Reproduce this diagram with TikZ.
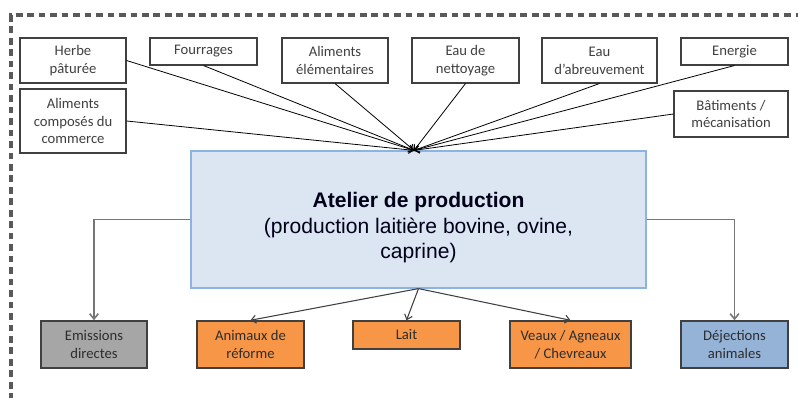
\documentclass[tikz,border=0pt]{standalone}
\usepackage{fontspec}
\setmainfont{Carlito}
\newfontfamily\arialf{Liberation Sans}
\usetikzlibrary{arrows.meta}
\definecolor{mainfill}{HTML}{DCE6F2}
\definecolor{mainline}{HTML}{8DB3E2}
\definecolor{boxline}{HTML}{404040}
\definecolor{txt}{HTML}{404040}
\definecolor{greyfill}{HTML}{A6A6A6}
\definecolor{orangefill}{HTML}{F79646}
\definecolor{bluefill}{HTML}{95B3D7}
\definecolor{framecol}{HTML}{595959}
\definecolor{greyline}{HTML}{767676}
\def\pxu{0.75pt}
\tikzset{
  x=0.75pt, y=-0.75pt,
  inbox/.style={draw=boxline, line width=0.8pt, fill=white, inner sep=1pt, align=center,
    text=txt, font=\fontsize{11}{13.3}\selectfont},
  outbox/.style={draw=boxline, line width=1.1pt, inner sep=1pt, align=center,
    text=txt!70!black, font=\fontsize{11}{13.3}\selectfont},
  mainbox/.style={draw=mainline, line width=0.9pt, fill=mainfill},
  maintext/.style={align=center, text=black!90!blue, font=\arialf\fontsize{15.8}{18.5}\selectfont},
  inarrow/.style={draw=black, line width=0.6pt, -{Straight Barb[length=3.5pt,width=5.5pt]}},
  outarrow/.style={draw=boxline, line width=0.8pt, -{Straight Barb[length=3.5pt,width=6pt]}},
  sidearrow/.style={draw=greyline, line width=1.2pt, -{Straight Barb[length=4pt,width=6.5pt]}},
  frameline/.style={draw=framecol, line width=3pt, dash pattern=on 5pt off 3.6pt}
}
\begin{document}
\begin{tikzpicture}
\useasboundingbox (0,0) rectangle (798,398);
% dashed frame
\draw[frameline] (11,400) -- (11,15) -- (805,15);

% input boxes
\node[inbox, minimum width=106*\pxu, minimum height=45*\pxu] (herbe) at (73,60.5) {Herbe\\pâturée};
\node[inbox, minimum width=107*\pxu, minimum height=27*\pxu] (fourr) at (203.5,51.5) {Fourrages};
\node[inbox, minimum width=106*\pxu, minimum height=45*\pxu] (alim) at (335,60.5) {Aliments\\élémentaires};
\node[inbox, minimum width=107*\pxu, minimum height=45*\pxu] (nett) at (465.5,60.5) {Eau de\\nettoyage};
\node[inbox, minimum width=115*\pxu, minimum height=45*\pxu] (abre) at (599.5,60.5) {Eau\\d'abreuvement};
\node[inbox, minimum width=107*\pxu, minimum height=27*\pxu] (ener) at (734.5,51.5) {Energie};
\node[inbox, minimum width=106*\pxu, minimum height=64*\pxu] (comp) at (73,121) {Aliments\\composés du\\commerce};
\node[inbox, minimum width=114*\pxu, minimum height=46*\pxu] (bati) at (731,114) {Bâtiments /\\mécanisation};

% main box
\node[mainbox, minimum width=455*\pxu, minimum height=137*\pxu,
  label={[maintext, yshift=-8*\pxu]center:{\textbf{Atelier de production}\\[1.5pt](production laitière bovine, ovine,\\caprine)}}]
  (main) at (418.5,219.5) {};
\coordinate (tgt) at ([xshift=-4.5*\pxu]main.north);

% output boxes
\node[outbox, fill=greyfill, minimum width=106*\pxu, minimum height=47*\pxu] (emis) at (94,344.5) {Emissions\\directes};
\node[outbox, fill=orangefill, minimum width=107*\pxu, minimum height=47*\pxu] (anim) at (250.5,344.5) {Animaux de\\réforme};
\node[outbox, fill=orangefill, minimum width=107*\pxu, minimum height=28*\pxu] (lait) at (406.5,335) {Lait};
\node[outbox, fill=orangefill, minimum width=121*\pxu, minimum height=47*\pxu] (veau) at (570.5,344.5) {Veaux / Agneaux\\/ Chevreaux};
\node[outbox, fill=bluefill, minimum width=107*\pxu, minimum height=47*\pxu] (deje) at (734.5,344.5) {Déjections\\animales};

% input connectors
\draw[inarrow] (herbe.east) -- (tgt);
\draw[inarrow] (fourr.south) -- (tgt);
\draw[inarrow] (alim.south) -- (tgt);
\draw[inarrow] (comp.east) -- (tgt);
\draw[inarrow] (nett.south) -- (tgt);
\draw[inarrow] (abre.south) -- (tgt);
\draw[inarrow] (ener.south) -- (tgt);
\draw[inarrow] (bati.west) -- (tgt);

% output connectors
\draw[sidearrow] (main.west) -| (emis.north);
\draw[sidearrow] (main.east) -| (deje.north);
\draw[outarrow] (main.south) -- (anim.north);
\draw[outarrow] (main.south) -- (lait.north);
\draw[outarrow] (main.south) -- (veau.north);
\end{tikzpicture}
\end{document}
